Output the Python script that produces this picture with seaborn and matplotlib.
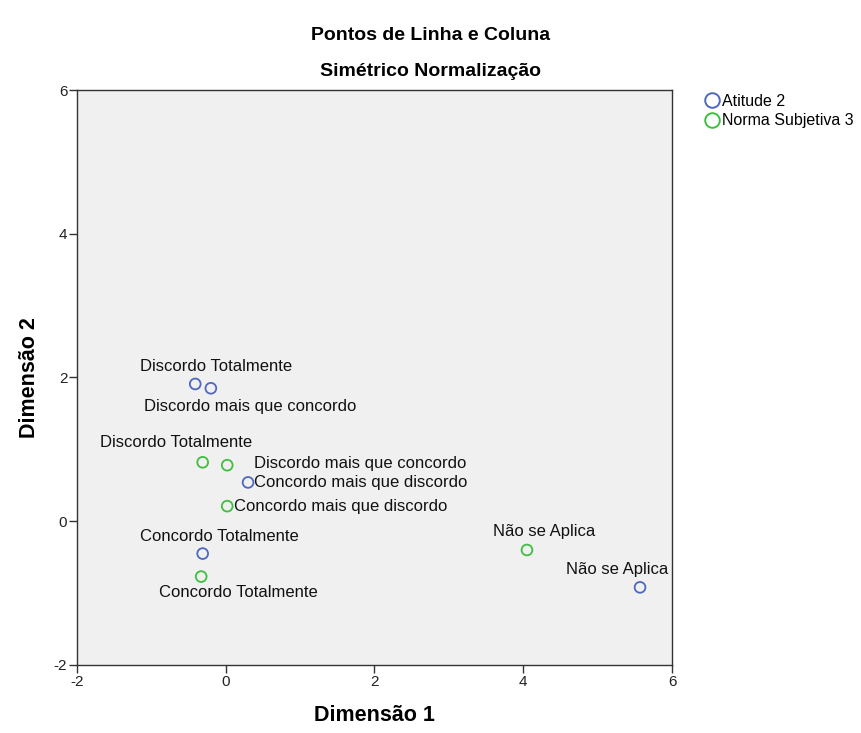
import numpy as np
import pandas as pd
import seaborn as sns
import matplotlib.pyplot as plt
from matplotlib.lines import Line2D

# --- data ---
categories = ['Discordo Totalmente', 'Discordo mais que concordo',
              'Concordo mais que discordo', 'Concordo Totalmente', 'Não se Aplica']
atitude_dim1 = [-0.41, -0.20, 0.30, -0.31, 5.57]
atitude_dim2 = [1.91, 1.85, 0.54, -0.45, -0.92]
norma_dim1 = [-0.31, 0.02, 0.02, -0.33, 4.05]
norma_dim2 = [0.82, 0.78, 0.21, -0.77, -0.40]
series_names = ['Atitude 2', 'Norma Subjetiva 3']
x_ticks = [-2, 0, 2, 4, 6]
y_ticks = [-2, 0, 2, 4, 6]

# label placement (offset in pixels, horizontal alignment)
label_layout = {
    ('Atitude 2', 'Discordo Totalmente'): ((21, 17), 'center'),
    ('Atitude 2', 'Discordo mais que concordo'): ((39, -18), 'center'),
    ('Atitude 2', 'Concordo mais que discordo'): ((6, 0), 'left'),
    ('Atitude 2', 'Concordo Totalmente'): ((17, 17), 'center'),
    ('Atitude 2', 'Não se Aplica'): ((-23, 18), 'center'),
    ('Norma Subjetiva 3', 'Discordo Totalmente'): ((-27, 20), 'center'),
    ('Norma Subjetiva 3', 'Discordo mais que concordo'): ((27, 2), 'left'),
    ('Norma Subjetiva 3', 'Concordo mais que discordo'): ((7, 0), 'left'),
    ('Norma Subjetiva 3', 'Concordo Totalmente'): ((37, -16), 'center'),
    ('Norma Subjetiva 3', 'Não se Aplica'): ((17, 18), 'center'),
}

df = pd.concat([
    pd.DataFrame({'cat': categories, 'd1': atitude_dim1, 'd2': atitude_dim2, 'serie': series_names[0]}),
    pd.DataFrame({'cat': categories, 'd1': norma_dim1, 'd2': norma_dim2, 'serie': series_names[1]}),
], ignore_index=True)

palette = {'Atitude 2': '#5067c0', 'Norma Subjetiva 3': '#3fbf3f'}

sns.set_style('ticks')
plt.rcParams['font.family'] = ['Liberation Sans', 'DejaVu Sans']
plt.rcParams['axes.unicode_minus'] = False
plt.rcParams['text.color'] = 'black'

fig = plt.figure(figsize=(8.62, 7.33), dpi=100)
ax = fig.add_axes([0.0893, 0.0928, 0.6903, 0.7844])
ax.set_facecolor('#f0f0f0')

sns.scatterplot(data=df, x='d1', y='d2', hue='serie', palette=palette,
                s=60, linewidth=1.3, legend=False, ax=ax, zorder=3)
# hollow circles
coll = ax.collections[0]
coll.set_edgecolors(coll.get_facecolors())
coll.set_facecolors('none')

px = 72 / fig.dpi
for _, row in df.iterrows():
    (dx, dy), ha = label_layout[(row['serie'], row['cat'])]
    ax.annotate(row['cat'], (row['d1'], row['d2']), xytext=(dx * px, dy * px),
                textcoords='offset points', ha=ha, va='center', fontsize=12, color='#111111')

ax.set_xlim(-2, 6)
ax.set_ylim(-2, 6)
ax.set_xticks(x_ticks)
ax.set_yticks(y_ticks)
ax.tick_params(direction='out', length=6, width=1, labelsize=11, colors='#333333',
               labelcolor='#222222', pad=1)
for sp in ax.spines.values():
    sp.set_visible(True)
    sp.set_color('#333333')
    sp.set_linewidth(1)

ax.set_xlabel('Dimensão 1', fontsize=15.5, fontweight='bold', labelpad=12, color='black')
ax.set_ylabel('Dimensão 2', fontsize=15.5, fontweight='bold', labelpad=10, color='black')

fig.text(0.5, 0.951, 'Pontos de Linha e Coluna', ha='center', va='center',
         fontsize=14, fontweight='bold')
fig.text(0.5, 0.902, 'Simétrico Normalização', ha='center', va='center',
         fontsize=14, fontweight='bold')

handles = [Line2D([], [], marker='o', linestyle='none', markerfacecolor='none',
                  markeredgecolor=palette[n], markersize=10.5, markeredgewidth=1.4)
           for n in series_names]
fig.legend(handles, series_names, loc='upper left', bbox_to_anchor=(0.807, 0.881),
           frameon=False, fontsize=11.5, handletextpad=0.05, labelspacing=0.3,
           borderaxespad=0, handlelength=1.2)

plt.savefig('out.png', dpi=100)
